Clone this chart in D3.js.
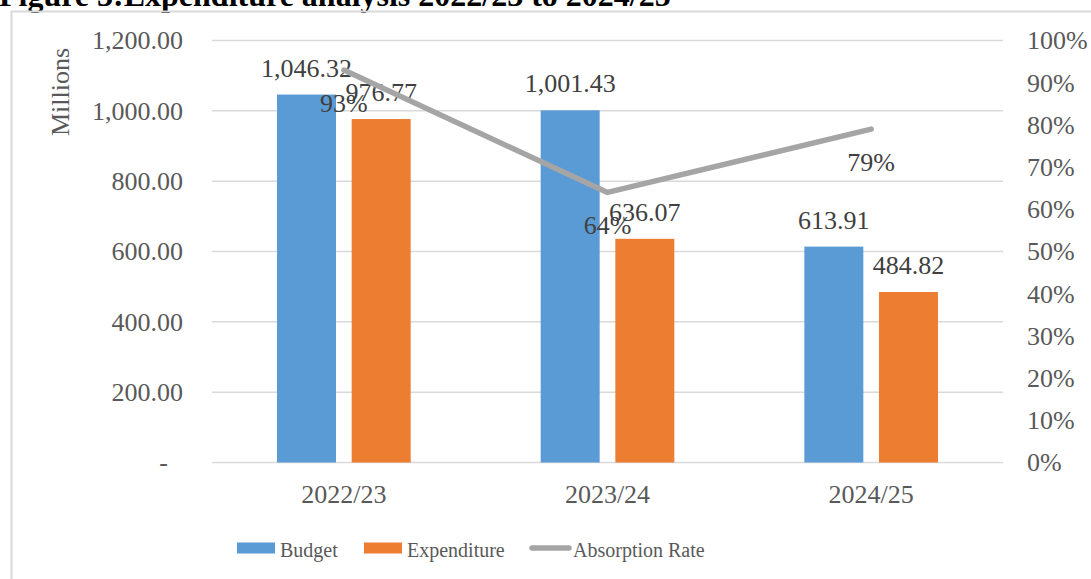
<!DOCTYPE html>
<html>
<head>
<meta charset="utf-8">
<script src="https://cdn.jsdelivr.net/npm/d3@7/dist/d3.min.js"></script>
<style>
  body { margin: 0; background: #fff; }
  svg text { font-family: "Liberation Serif", "Times New Roman", serif; }
</style>
</head>
<body>
<svg id="chart"></svg>
<script>
(function() {

// data
const years = ["2022/23", "2023/24", "2024/25"];
const seriesNames = ["Budget", "Expenditure"];
const budget = [1046.32, 1001.43, 613.91];
const expenditure = [976.77, 636.07, 484.82];
const absorption = [0.93, 0.64, 0.79];
const leftTicks = [0, 200, 400, 600, 800, 1000, 1200];
const rightTicks = [0, 0.1, 0.2, 0.3, 0.4, 0.5, 0.6, 0.7, 0.8, 0.9, 1];

const colors = { Budget: "#5b9bd5", Expenditure: "#ed7d31", line: "#a5a5a5" };
const textColor = "#595959";
const gridColor = "#d9d9d9";

const W = 1091, H = 579;
const plot = { left: 212, right: 1003, top: 40.5, bottom: 462.5 };

const svg = d3.select("#chart")
    .attr("width", W)
    .attr("height", H);

// title (cut off at the top in the reference)
svg.append("text")
    .attr("x", -1)
    .attr("y", 6)
    .attr("font-size", "32px")
    .attr("font-weight", "bold")
    .attr("fill", "#000")
    .text("Figure 3:Expenditure analysis 2022/23 to 2024/25");

// chart frame
svg.append("rect")
    .attr("x", 11.5)
    .attr("y", 11.5)
    .attr("width", 1200)
    .attr("height", 700)
    .attr("fill", "none")
    .attr("stroke", gridColor)
    .attr("stroke-width", 2);

const x = d3.scaleBand().domain(years).range([plot.left, plot.right]);
const x1 = d3.scaleBand()
    .domain(seriesNames)
    .range([65, x.bandwidth() - 65])
    .paddingInner(0.21);
const y = d3.scaleLinear().domain([0, 1200]).range([plot.bottom, plot.top]);
const y2 = d3.scaleLinear().domain([0, 1]).range([plot.bottom, plot.top]);

// gridlines
svg.append("g")
    .selectAll("line")
    .data(leftTicks)
    .enter().append("line")
    .attr("x1", plot.left)
    .attr("x2", plot.right)
    .attr("y1", d => y(d))
    .attr("y2", d => y(d))
    .attr("stroke", gridColor)
    .attr("stroke-width", 1.5);

// left axis
const fmtLeft = d => d === 0 ? "-" : d3.format(",.2f")(d);
const yAxis = svg.append("g")
    .attr("transform", `translate(${plot.left},0)`)
    .call(d3.axisLeft(y).tickValues(leftTicks).tickFormat(fmtLeft).tickSize(0).tickPadding(29));
yAxis.select(".domain").remove();
yAxis.selectAll("text")
    .attr("font-size", "26px")
    .attr("fill", textColor)
    .attr("font-family", "Liberation Serif, Times New Roman, serif")
    .attr("dx", d => d === 0 ? -15 : 0);

// right axis
const yAxis2 = svg.append("g")
    .attr("transform", `translate(${plot.right},0)`)
    .call(d3.axisRight(y2).tickValues(rightTicks).tickFormat(d3.format(".0%")).tickSize(0).tickPadding(24));
yAxis2.select(".domain").remove();
yAxis2.selectAll("text")
    .attr("font-size", "26px")
    .attr("fill", textColor)
    .attr("font-family", "Liberation Serif, Times New Roman, serif");

// x axis labels
const xAxis = svg.append("g")
    .attr("transform", `translate(0,${plot.bottom})`)
    .call(d3.axisBottom(x).tickSize(0).tickPadding(22));
xAxis.select(".domain").remove();
xAxis.selectAll("text")
    .attr("font-size", "26px")
    .attr("fill", textColor)
    .attr("font-family", "Liberation Serif, Times New Roman, serif");

// y axis title
svg.append("text")
    .attr("transform", `translate(69,92) rotate(-90)`)
    .attr("text-anchor", "middle")
    .attr("font-size", "26px")
    .attr("fill", textColor)
    .text("Millions");

// bars
const rows = years.map((yr, i) => ({ year: yr, Budget: budget[i], Expenditure: expenditure[i] }));

const groups = svg.append("g")
    .selectAll("g")
    .data(rows)
    .enter().append("g")
    .attr("transform", d => `translate(${x(d.year)},0)`);

groups.selectAll("rect")
    .data(d => seriesNames.map(k => ({ key: k, value: d[k] })))
    .enter().append("rect")
    .attr("x", d => x1(d.key))
    .attr("y", d => y(d.value))
    .attr("width", x1.bandwidth())
    .attr("height", d => plot.bottom - y(d.value))
    .attr("fill", d => colors[d.key]);

// line
const pts = years.map((yr, i) => ({ year: yr, v: absorption[i] }));
const line = d3.line()
    .x(d => x(d.year) + x.bandwidth() / 2)
    .y(d => y2(d.v));

svg.append("path")
    .datum(pts)
    .attr("d", line)
    .attr("fill", "none")
    .attr("stroke", colors.line)
    .attr("stroke-width", 5.5)
    .attr("stroke-linejoin", "round")
    .attr("stroke-linecap", "round");

// bar value labels
groups.selectAll(".val")
    .data(d => seriesNames.map(k => ({ key: k, value: d[k] })))
    .enter().append("text")
    .attr("class", "val")
    .attr("x", d => x1(d.key) + x1.bandwidth() / 2)
    .attr("y", d => y(d.value) - 18)
    .attr("text-anchor", "middle")
    .attr("font-size", "26px")
    .attr("fill", "#404040")
    .text(d => d3.format(",.2f")(d.value));

// absorption labels
svg.append("g")
    .selectAll("text")
    .data(pts)
    .enter().append("text")
    .attr("x", d => x(d.year) + x.bandwidth() / 2)
    .attr("y", d => y2(d.v) + 42)
    .attr("text-anchor", "middle")
    .attr("font-size", "26px")
    .attr("fill", "#404040")
    .text(d => d3.format(".0%")(d.v));

// legend
const legend = svg.append("g").attr("transform", "translate(0,548)");
const legendItems = [
    { name: "Budget", x: 237, type: "rect" },
    { name: "Expenditure", x: 364, type: "rect" },
    { name: "Absorption Rate", x: 530, type: "line" }
];
legendItems.forEach(item => {
    if (item.type === "rect") {
        legend.append("rect")
            .attr("x", item.x)
            .attr("y", -5.5)
            .attr("width", 38)
            .attr("height", 11)
            .attr("fill", colors[item.name]);
    } else {
        legend.append("line")
            .attr("x1", item.x + 2)
            .attr("x2", item.x + 39)
            .attr("y1", 0)
            .attr("y2", 0)
            .attr("stroke", colors.line)
            .attr("stroke-width", 5.5)
            .attr("stroke-linecap", "round");
    }
    legend.append("text")
        .attr("x", item.x + (item.type === "rect" ? 43 : 43))
        .attr("y", 9)
        .attr("font-size", "20px")
        .attr("fill", textColor)
        .text(item.name);
});

})();
</script>
</body>
</html>
